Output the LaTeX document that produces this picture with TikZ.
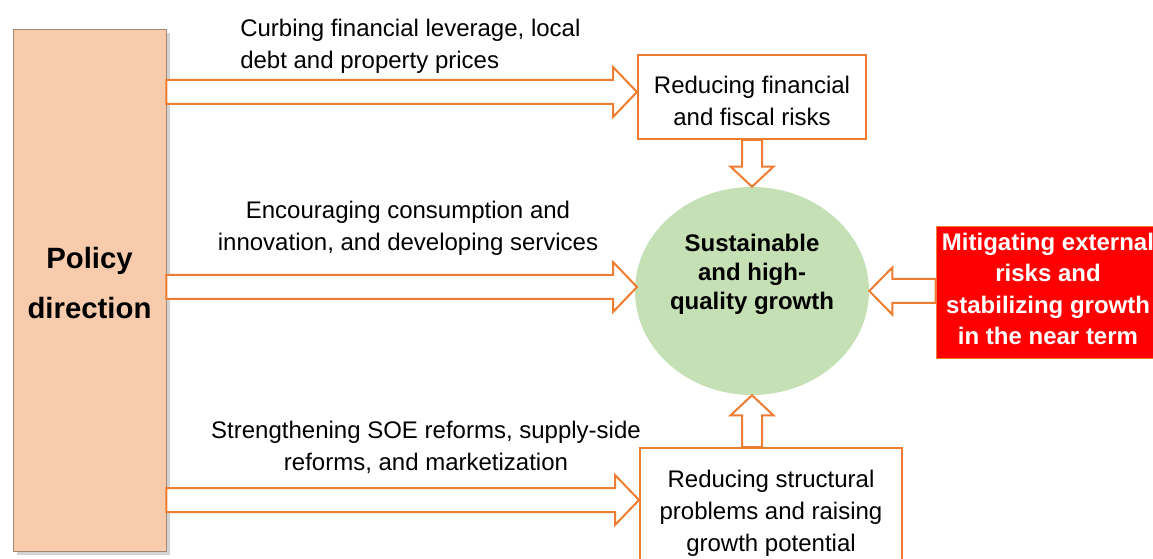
\documentclass[tikz,border=0pt]{standalone}
\usepackage{fontspec}
\setmainfont{Liberation Sans}
\usetikzlibrary{shapes.geometric,calc,shadows}
\definecolor{boxorange}{HTML}{ED7D31}
\definecolor{policyfill}{HTML}{F7CBAC}
\definecolor{policyedge}{HTML}{A3866F}
\definecolor{growthgreen}{HTML}{C5E0B4}
\definecolor{alertred}{HTML}{FF0000}

% block arrow: #1 half shaft, #2 half head, #3 head length, #4 from, #5 to
\newcommand{\blockarrow}[5]{%
  \path ($(#5)!#3!(#4)$) coordinate (neck);
  \draw[blockarr] ($(#4)!#1!90:(#5)$) -- ($(neck)!#1!90:(#5)$) -- ($(neck)!#2!90:(#5)$)
    -- (#5) -- ($(neck)!#2!-90:(#5)$) -- ($(neck)!#1!-90:(#5)$) -- ($(#4)!#1!-90:(#5)$) -- cycle;}

\begin{document}
\begin{tikzpicture}[x=0.75pt,y=-0.75pt,
  txt/.style={font=\fontsize{18}{24}\selectfont,align=center,inner sep=0pt},
  goalbox/.style={draw=boxorange,line width=1.5pt,fill=white},
  blockarr/.style={draw=boxorange,line width=1.5pt,fill=white,line join=miter}]
\clip (0,0) rectangle (1153,559);

% policy column
\node[draw=policyedge,fill=policyfill,minimum width=114.75pt,minimum height=391.5pt,
  drop shadow={opacity=0.35,shadow xshift=3pt,shadow yshift=-3pt}] (policy) at (89.5,290) {};
\node[font=\fontsize{22}{37.5}\selectfont\bfseries,align=center] (policytxt) at (89.5,283) {Policy\\direction};

% goals
\node[goalbox,minimum width=171pt,minimum height=63pt] (fin) at (752,97) {};
\node[txt] (fintxt) at (752,101) {Reducing financial\\and fiscal risks};
\node[goalbox,minimum width=196.5pt,minimum height=91.5pt] (struct) at (771,509) {};
\node[txt] (structtxt) at (771,513) {Reducing structural\\problems and raising\\growth potential};
\node[ellipse,fill=growthgreen,inner sep=0pt,minimum width=175.5pt,minimum height=156pt] (growth) at (752,291) {};
\node[txt,font=\fontsize{18}{21.75}\selectfont\bfseries] (growthtxt) at (752,274)
  {Sustainable\\and high-\\quality growth};
\node[draw=boxorange,fill=alertred,minimum width=168pt,minimum height=99pt] (ext) at (1048,292) {};
\node[txt,text=white,font=\fontsize{18}{23.5}\selectfont\bfseries] (exttxt) at (1048,289)
  {Mitigating external\\risks and\\stabilizing growth\\in the near term};

% arrow labels
\node[txt,align=left,anchor=west] (lab1) at (240,46) {Curbing financial leverage, local\\debt and property prices};
\node[txt] (lab2) at (408,228) {Encouraging consumption and\\innovation, and developing services};
\node[txt] (lab3) at (426,447) {Strengthening SOE reforms, supply-side\\reforms, and marketization};

% block arrows
\coordinate (s1) at (policy.east |- 0,92);
\coordinate (e1) at (fin.west |- 0,92);
\coordinate (s2) at (policy.east |- 0,287);
\coordinate (e2) at (637,287);
\coordinate (s3) at (policy.east |- 0,500);
\coordinate (e3) at (struct.west |- 0,500);
\blockarrow{9pt}{18.75pt}{18pt}{s1}{e1}
\blockarrow{9pt}{18.75pt}{18pt}{s2}{e2}
\blockarrow{9pt}{18.75pt}{18pt}{s3}{e3}
\blockarrow{7.5pt}{16pt}{15pt}{fin.south}{growth.north}
\coordinate (b1) at (growth.south |- struct.north);
\blockarrow{7.5pt}{16pt}{15pt}{b1}{growth.south}
\coordinate (r1) at (ext.west |- growth.east);
\blockarrow{9pt}{17.6pt}{17.25pt}{r1}{growth.east}
\end{tikzpicture}
\end{document}
